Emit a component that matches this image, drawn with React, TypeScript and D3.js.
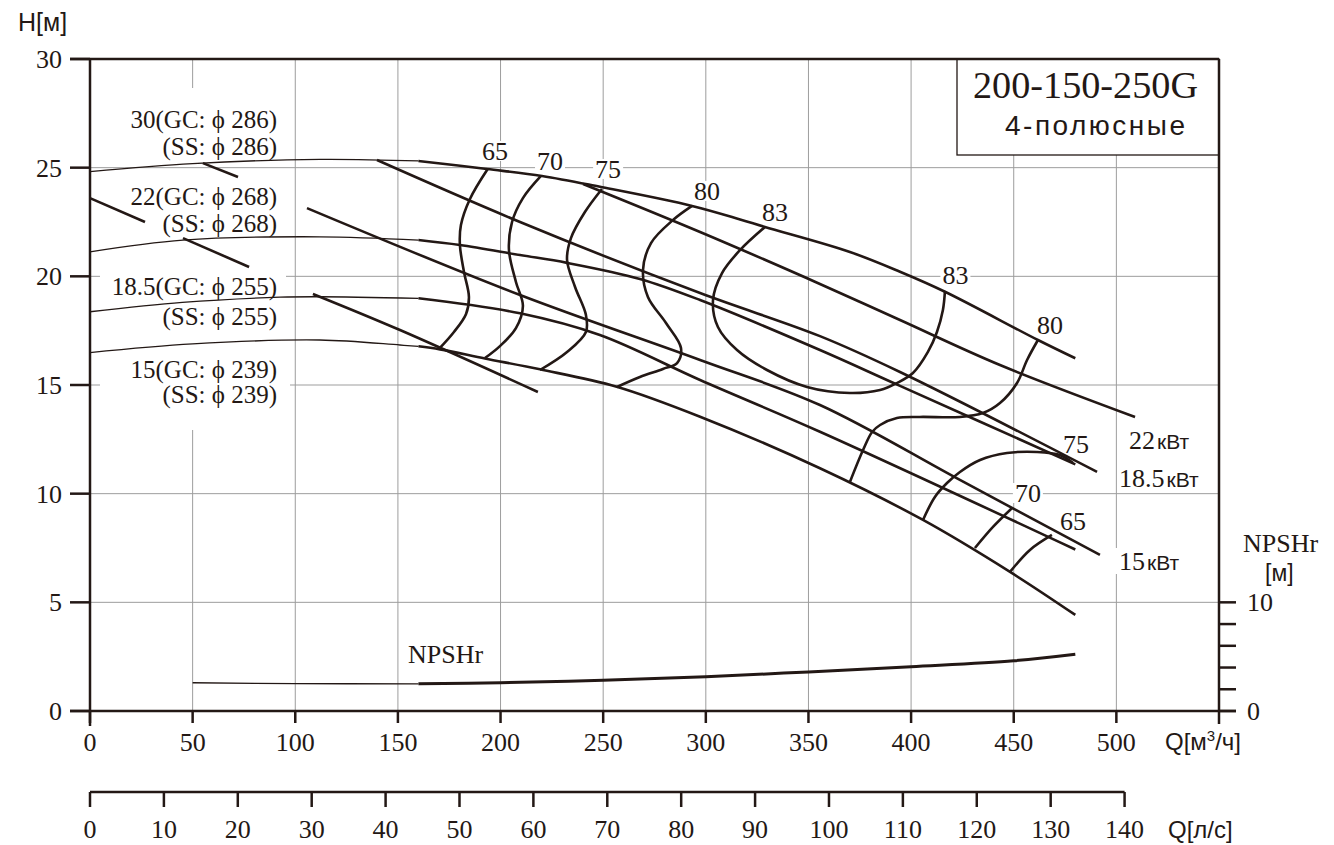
import React from 'react';
import * as d3 from 'd3';

type P = [number, number];

// ---- axis ticks ----
const qTicks = [0, 50, 100, 150, 200, 250, 300, 350, 400, 450, 500];
const qGrid = [50, 100, 150, 200, 250, 300, 350, 400, 450, 500];
const hTicks = [0, 5, 10, 15, 20, 25, 30];
const hGrid = [5, 10, 15, 20, 25];
const lsTicks = [0, 10, 20, 30, 40, 50, 60, 70, 80, 90, 100, 110, 120, 130, 140];
const npshTicks = [0, 2, 4, 6, 8, 10];
const npshLabels = [0, 10];

// ---- H-Q curves (Q m3/h, H m) ----
const curve286: P[] = [[0, 24.82], [50, 25.19], [112, 25.38], [160, 25.31], [193.4, 24.94], [220.2, 24.62], [248.4, 24.12], [293.3, 23.24], [316.7, 22.62], [328.8, 22.27], [370.2, 21.12], [394.6, 20.21], [416.5, 19.29], [461.8, 17.07], [480, 16.23]];
const curve268: P[] = [[0, 21.13], [45.3, 21.67], [112, 21.82], [160, 21.67], [180.2, 21.44], [209.5, 20.98], [232.4, 20.62], [267.9, 19.88], [297.2, 18.91], [355.6, 16.61], [394.6, 14.96], [480, 11.35]];
const curve255: P[] = [[0, 18.37], [45, 18.8], [92.6, 19.04], [112, 19.06], [160, 18.99], [209.5, 18.3], [248.4, 17.3], [297.2, 15.23], [355.6, 12.85], [480, 7.43]];
const curve239: P[] = [[0, 16.49], [50, 16.89], [112, 17.07], [151, 16.84], [160, 16.78], [170.5, 16.64], [192.4, 16.22], [219.2, 15.72], [256.6, 14.92], [297.2, 13.54], [355.6, 11.17], [405.8, 8.79], [448.2, 6.4], [480, 4.42]];

// ---- power lines ----
const power22: P[] = [[240.2, 24.25], [297.2, 22.04], [355.6, 19.65], [394.6, 17.99], [443.3, 15.92], [509.1, 13.53]];
const power185: P[] = [[139.8, 25.35], [209.5, 22.5], [297.2, 19.23], [355.6, 17.25], [394.6, 15.6], [490.6, 11.0]];
const power15: P[] = [[105.7, 23.14], [209.5, 19.14], [297.2, 16.15], [355.6, 14.08], [424, 10.62], [492, 7.18]];
const powerShort: P[] = [[108.6, 19.19], [151, 17.53], [218.2, 14.68]];

// ---- leader lines ----
const leaderA: P[] = [[55, 25.21], [72.1, 24.57]];
const leaderB: P[] = [[0, 23.6], [26.8, 22.5]];
const leaderC: P[] = [[45.3, 21.76], [77.5, 20.43]];

// ---- efficiency contours ----
const eff65L: P[] = [[193.9, 24.96], [185.1, 23.56], [180.7, 22.36], [180.2, 21.44], [182.2, 20.2], [184.6, 19.05], [183.2, 18.27], [177.3, 17.44], [170.0, 16.66]];
const eff70L: P[] = [[219.7, 24.62], [210.9, 23.6], [205.6, 22.5], [204.1, 21.21], [207.5, 19.74], [210.9, 18.64], [207.5, 17.62], [199.7, 16.79], [192.4, 16.24]];
const eff75L: P[] = [[249.4, 24.02], [241.1, 22.96], [234.3, 21.76], [232.4, 20.75], [236.3, 19.51], [241.6, 18.22], [241.6, 17.44], [232.4, 16.52], [219.2, 15.69]];
const eff80L: P[] = [[293.3, 23.24], [284.0, 22.59], [273.3, 21.53], [269.4, 20.29], [271.8, 19.05], [280.6, 17.85], [287.9, 16.7], [286.0, 16.01], [279.1, 15.74], [267.9, 15.37], [256.7, 14.91]];
const eff83: P[] = [[328.8, 22.27], [316.7, 21.21], [307.9, 20.15], [303.5, 18.91], [305.9, 17.67], [315.2, 16.61], [329.8, 15.69], [349.3, 14.91], [370.2, 14.63], [384.9, 14.77], [393.1, 15.09], [400.9, 15.55], [408.2, 16.52], [412.6, 17.44], [415.5, 18.45], [416.5, 19.33]];
const eff80R: P[] = [[461.8, 17.07], [456.5, 16.15], [451.6, 15.09], [443.3, 14.17], [435.0, 13.71], [423.8, 13.53], [404.3, 13.53], [393.1, 13.48], [384.9, 13.16], [381.0, 12.84], [376.6, 12.01], [370.2, 10.54]];
const eff75R: P[] = [[405.8, 8.79], [411.6, 9.85], [417.5, 10.49], [423.8, 11.0], [433.6, 11.55], [446.7, 11.87], [461.3, 11.92], [472.5, 11.78], [478.9, 11.41]];
const eff70R: P[] = [[431.1, 7.5], [439.9, 8.47], [449.2, 9.34]];
const eff65R: P[] = [[448.2, 6.4], [457.9, 7.41], [468.6, 8.1]];

const effLabelText = ['65', '70', '75', '80', '83', '83', '80', '75', '70', '65'];
const effLabelQ = [197.3, 224.1, 252.4, 300.6, 333.7, 421.6, 467.7, 480.3, 456.9, 478.9];
const effLabelH = [25.77, 25.31, 24.94, 23.93, 22.96, 20.04, 17.76, 12.27, 10.03, 8.74];

// ---- NPSHr (Q m3/h, NPSHr m) ----
const npshr: P[] = [[50, 2.6], [100, 2.52], [160, 2.5], [200, 2.6], [250, 2.82], [300, 3.15], [350, 3.6], [400, 4.08], [450, 4.62], [480, 5.22]];

const thickFrom = 160;

// ---- texts ----
const curveLabels = ['30(GC: ϕ 286)', '(SS: ϕ 286)', '22(GC: ϕ 268)', '(SS: ϕ 268)', '18.5(GC: ϕ 255)', '(SS: ϕ 255)', '15(GC: ϕ 239)', '(SS: ϕ 239)'];
const curveLabelBase = [128, 155, 205, 232, 295, 325, 378, 403];
const powerNum = ['22', '18.5', '15'];
const powerUnit = 'кВт';

const INK = '#231815';
const GRID = '#9d9d9d';
const SERIF = "'Liberation Serif', 'Times New Roman', serif";
const SANS = "'Liberation Sans', Arial, sans-serif";

export default function App() {
  const x = d3.scaleLinear().domain([0, 550]).range([90, 1219]);
  const y = d3.scaleLinear().domain([0, 30]).range([711, 59]);
  const yN = d3.scaleLinear().domain([0, 10]).range([y(0), y(5)]);
  const xL = d3.scaleLinear().domain([0, 140]).range([x(0), x(504)]);
  const line = d3.line<P>().x(d => x(d[0])).y(d => y(d[1])).curve(d3.curveCatmullRom.alpha(0.5));
  const lineN = d3.line<P>().x(d => x(d[0])).y(d => yN(d[1])).curve(d3.curveCatmullRom.alpha(0.5));
  const thin = (pts: P[]) => pts.filter(p => p[0] <= thickFrom);
  const thick = (pts: P[]) => pts.filter(p => p[0] >= thickFrom);

  const curves = [curve286, curve268, curve255, curve239];
  const thickLines = [power22, power185, power15, powerShort, leaderA, leaderB, leaderC,
    eff65L, eff70L, eff75L, eff80L, eff83, eff80R, eff75R, eff70R, eff65R];

  const left = x(0), right = x(550), top = y(30), bottom = y(0);

  return (
    <svg width={1334} height={845} style={{ position: 'absolute', left: 0, top: 0, background: '#fff' }}>
      <rect x={0} y={0} width={1334} height={845} fill="#fff" />
      {/* vertical grid */}
      {qGrid.map(q => <line key={'vg' + q} x1={x(q)} x2={x(q)} y1={top} y2={bottom} stroke={GRID} strokeWidth={1} />)}
      {/* mask left label region for vertical grid */}
      <rect x={100} y={88} width={185} height={342} fill="#fff" />
      {/* horizontal grid */}
      {hGrid.map(h => <line key={'hg' + h} x1={left} x2={right} y1={y(h)} y2={y(h)} stroke={GRID} strokeWidth={1} />)}
      {/* label backgrounds */}
      <rect x={100} y={270} width={186} height={60} fill="#fff" />
      <rect x={100} y={356} width={190} height={52} fill="#fff" />
      {effLabelText.map((t, i) => (
        <rect key={'eb' + i} x={x(effLabelQ[i]) - 15} y={y(effLabelH[i]) - 10} width={30} height={20} fill="#fff" />
      ))}
      <rect x={1123} y={428} width={90} height={62} fill="#fff" />
      <rect x={1115} y={548} width={75} height={26} fill="#fff" />
      {/* title box */}
      <rect x={957} y={top} width={right - 957} height={96} fill="#fff" stroke={INK} strokeWidth={1.3} />
      <text x={973} y={98} fontFamily={SERIF} fontSize={37} fill={INK} textLength={225} lengthAdjust="spacingAndGlyphs">200-150-250G</text>
      <text x={1005} y={135} fontFamily={SANS} fontSize={28} fill={INK} textLength={180} lengthAdjust="spacing">4-полюсные</text>

      {/* curves */}
      {curves.map((c, i) => (
        <g key={'c' + i}>
          <path d={line(thin(c)) || ''} fill="none" stroke={INK} strokeWidth={1.3} />
          <path d={line(thick(c)) || ''} fill="none" stroke={INK} strokeWidth={2.6} />
        </g>
      ))}
      {thickLines.map((c, i) => (
        <path key={'t' + i} d={line(c) || ''} fill="none" stroke={INK} strokeWidth={2.6} />
      ))}
      {/* NPSHr */}
      <path d={lineN(thin(npshr)) || ''} fill="none" stroke={INK} strokeWidth={1.3} />
      <path d={lineN(thick(npshr)) || ''} fill="none" stroke={INK} strokeWidth={3} />
      <text x={408} y={663} fontFamily={SERIF} fontSize={26} fill={INK}>NPSHr</text>

      {/* efficiency labels */}
      {effLabelText.map((t, i) => (
        <text key={'el' + i} x={x(effLabelQ[i])} y={y(effLabelH[i]) + 9} textAnchor="middle" fontFamily={SERIF} fontSize={26} fill={INK}>{t}</text>
      ))}

      {/* curve labels */}
      {curveLabels.map((t, i) => (
        <text key={'cl' + i} x={277} y={curveLabelBase[i]} textAnchor="end" fontFamily={SERIF} fontSize={25} fill={INK}>{t}</text>
      ))}

      {/* power labels */}
      {[[1129, 449], [1119, 487], [1119, 570]].map((p, i) => (
        <text key={'pl' + i} x={p[0]} y={p[1]} fontFamily={SERIF} fontSize={26} fill={INK}>
          {powerNum[i]}<tspan fontFamily={SANS} fontSize={21} dx={2}>{powerUnit}</tspan>
        </text>
      ))}

      {/* frame & axes */}
      <line x1={70} x2={right} y1={top} y2={top} stroke={INK} strokeWidth={2.5} />
      <line x1={left} x2={left} y1={top} y2={726} stroke={INK} strokeWidth={2.5} />
      <line x1={right} x2={right} y1={top} y2={724} stroke={INK} strokeWidth={2.5} />
      <line x1={70} x2={1236} y1={bottom} y2={bottom} stroke={INK} strokeWidth={2.5} />
      {hTicks.map(h => <line key={'ht' + h} x1={70} x2={left} y1={y(h)} y2={y(h)} stroke={INK} strokeWidth={2.5} />)}
      {hTicks.map(h => (
        <text key={'hl' + h} x={62} y={y(h) + 9} textAnchor="end" fontFamily={SERIF} fontSize={26} fill={INK}>{h}</text>
      ))}
      {qTicks.map(q => <line key={'qt' + q} x1={x(q)} x2={x(q)} y1={bottom} y2={723} stroke={INK} strokeWidth={2.5} />)}
      {qTicks.map(q => (
        <text key={'ql' + q} x={x(q)} y={751} textAnchor="middle" fontFamily={SERIF} fontSize={26} fill={INK}>{q}</text>
      ))}
      <text x={1165} y={750} fontFamily={SANS} fontSize={24} fill={INK}>Q[м<tspan fontSize={15} dy={-9}>3</tspan><tspan dy={9}>/ч]</tspan></text>

      {/* NPSHr axis */}
      {npshTicks.map(n => <line key={'nt' + n} x1={right} x2={1236} y1={yN(n)} y2={yN(n)} stroke={INK} strokeWidth={2.5} />)}
      {npshLabels.map(n => (
        <text key={'nl' + n} x={1247} y={yN(n) + 9} fontFamily={SERIF} fontSize={26} fill={INK}>{n}</text>
      ))}
      <text x={1243} y={552} fontFamily={SERIF} fontSize={26} fill={INK}>NPSHr</text>
      <text x={1265} y={581} fontFamily={SANS} fontSize={23} fill={INK}>[м]</text>

      {/* l/s axis */}
      <line x1={xL(0)} x2={xL(140)} y1={792} y2={792} stroke={INK} strokeWidth={2.5} />
      {lsTicks.map(v => <line key={'lt' + v} x1={xL(v)} x2={xL(v)} y1={792} y2={807} stroke={INK} strokeWidth={2.5} />)}
      {lsTicks.map(v => (
        <text key={'ll' + v} x={xL(v)} y={838} textAnchor="middle" fontFamily={SERIF} fontSize={26} fill={INK}>{v}</text>
      ))}
      <text x={1168} y={838} fontFamily={SANS} fontSize={24} fill={INK}>Q[л/с]</text>

      <text x={18} y={31} fontFamily={SANS} fontSize={25} fill={INK}>H[м]</text>
    </svg>
  );
}
